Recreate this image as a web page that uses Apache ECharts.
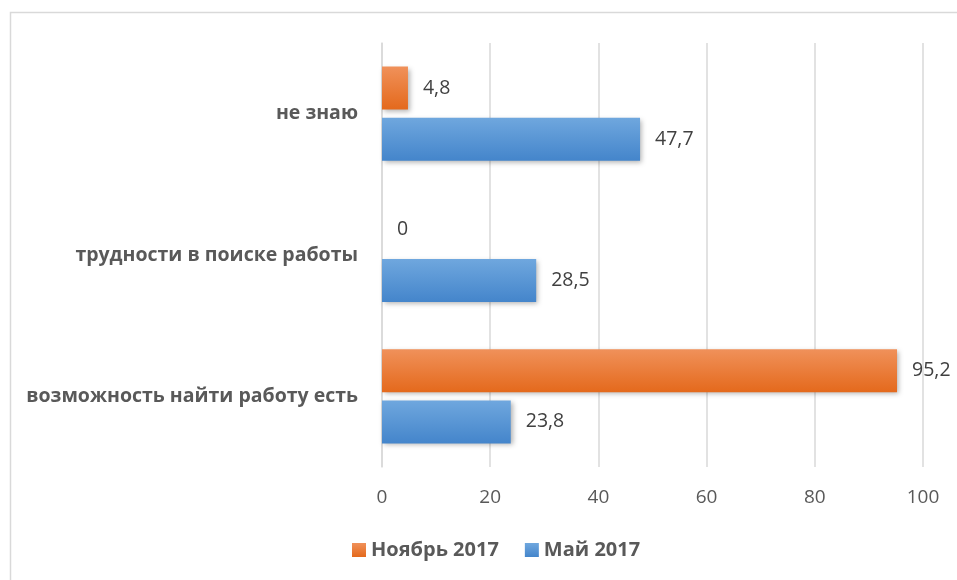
<!DOCTYPE html>
<html>
<head>
<meta charset="utf-8">
<script src="https://cdn.jsdelivr.net/npm/echarts@6/dist/echarts.min.js"></script>
<style>
html,body{margin:0;padding:0;background:#fff;}
#chart{width:957px;height:580px;}
</style>
</head>
<body>
<div id="chart"></div>
<script>
// categories bottom -> top (category axis runs upward)
var categories = ['возможность найти работу есть', 'трудности в поиске работы', 'не знаю'];
var may2017 = [23.8, 28.5, 47.7];
var nov2017 = [95.2, 0, 4.8];
var xTicks = [0, 20, 40, 60, 80, 100];

var FONT = '"Open Sans", "Noto Sans", sans-serif';

function grad(top, bottom){
    return new echarts.graphic.LinearGradient(0, 0, 0, 1, [
        {offset: 0, color: top},
        {offset: 1, color: bottom}
    ]);
}
function comma(p){
    return String(p.value).replace('.', ',');
}
var barLabel = {show: true, position: 'right', distance: 15, fontSize: 19.5, color: '#404040', formatter: comma, fontFamily: FONT};
var barShadow = {shadowColor: 'rgba(0,0,0,0.3)', shadowBlur: 5, shadowOffsetX: 2, shadowOffsetY: 2};

var chart = echarts.init(document.getElementById('chart'));
chart.setOption({
    animation: false,
    textStyle: {fontFamily: FONT},
    graphic: [{
        type: 'rect',
        shape: {x: 10.5, y: 12.5, width: 960, height: 600},
        style: {fill: 'none', stroke: '#d9d9d9', lineWidth: 1.5},
        silent: true
    }],
    grid: {left: 382, right: 34, top: 43, bottom: 113},
    legend: {
        bottom: 15,
        left: 347,
        data: ['Ноябрь 2017', 'Май 2017'],
        icon: 'rect',
        itemWidth: 14,
        itemHeight: 14,
        itemGap: 26,
        textStyle: {fontSize: 20, fontWeight: 'bold', color: '#595959', fontFamily: FONT}
    },
    xAxis: {
        type: 'value',
        min: xTicks[0],
        max: xTicks[xTicks.length - 1],
        interval: 20,
        axisLine: {show: false},
        axisTick: {show: false},
        splitLine: {lineStyle: {color: '#d9d9d9', width: 1.5}},
        axisLabel: {fontSize: 19, color: '#595959', margin: 21, fontFamily: FONT}
    },
    yAxis: {
        type: 'category',
        data: categories,
        axisLine: {show: true, lineStyle: {color: '#d9d9d9', width: 1.5}},
        axisTick: {show: false},
        axisLabel: {fontSize: 19.5, fontWeight: 'bold', color: '#595959', margin: 24, fontFamily: FONT}
    },
    series: [{
        name: 'Ноябрь 2017',
        type: 'bar',
        data: nov2017,
        barWidth: 43,
        barGap: '19%',
        itemStyle: Object.assign({color: grad('#f0915a', '#e4691c')}, barShadow),
        label: barLabel
    }, {
        name: 'Май 2017',
        type: 'bar',
        data: may2017,
        barWidth: 43,
        barGap: '19%',
        itemStyle: Object.assign({color: grad('#6fa7de', '#4485cb')}, barShadow),
        label: barLabel
    }]
});
</script>
</body>
</html>
